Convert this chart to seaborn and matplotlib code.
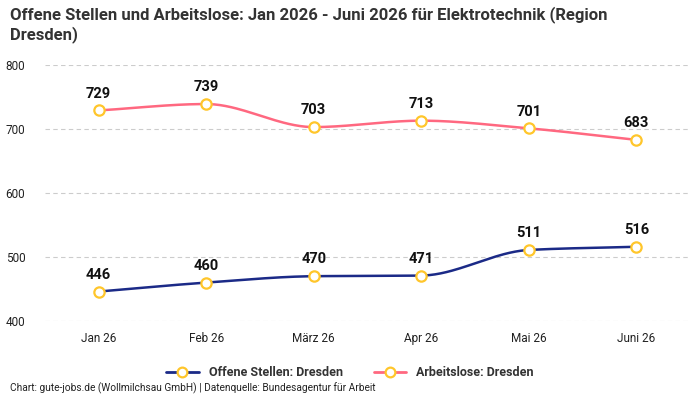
import numpy as np
import pandas as pd
import seaborn as sns
import matplotlib.pyplot as plt
from matplotlib.lines import Line2D

# Data
monate = ["Jan 26", "Feb 26", "März 26", "Apr 26", "Mai 26", "Juni 26"]
offene_stellen = [446, 460, 470, 471, 511, 516]
arbeitslose = [729, 739, 703, 713, 701, 683]

NAVY = "#1b2a87"
PINK = "#ff6880"
YELLOW = "#ffc62b"

sns.set_theme(style="white")
plt.rcParams["font.family"] = ["Roboto", "DejaVu Sans"]


def monotone_curve(x, y, n=40):
    # monotone cubic hermite (Fritsch-Carlson), only for drawing the smooth line
    x = np.asarray(x, float)
    y = np.asarray(y, float)
    h = np.diff(x)
    d = np.diff(y) / h
    m = np.zeros_like(y)
    m[0], m[-1] = d[0], d[-1]
    for i in range(1, len(y) - 1):
        if d[i - 1] * d[i] <= 0:
            m[i] = 0
        else:
            m[i] = 2 / (1 / d[i - 1] + 1 / d[i])
    xs, ys = [], []
    for i in range(len(h)):
        t = np.linspace(0, 1, n)
        h00 = 2 * t**3 - 3 * t**2 + 1
        h10 = t**3 - 2 * t**2 + t
        h01 = -2 * t**3 + 3 * t**2
        h11 = t**3 - t**2
        xs.append(x[i] + t * h[i])
        ys.append(h00 * y[i] + h10 * h[i] * m[i] + h01 * y[i + 1] + h11 * h[i] * m[i + 1])
    return np.concatenate(xs), np.concatenate(ys)


df = pd.DataFrame({
    "pos": list(range(len(monate))) * 2,
    "wert": offene_stellen + arbeitslose,
    "reihe": ["Offene Stellen: Dresden"] * 6 + ["Arbeitslose: Dresden"] * 6,
})

fig = plt.figure(figsize=(7, 4), dpi=100)
ax = fig.add_axes([0.064, 0.1975, 0.922, 0.64])

for name, color in [("Offene Stellen: Dresden", NAVY), ("Arbeitslose: Dresden", PINK)]:
    sub = df[df["reihe"] == name]
    cx, cy = monotone_curve(sub["pos"], sub["wert"])
    ax.plot(cx, cy, color=color, lw=1.8, zorder=3)
    sns.scatterplot(data=sub, x="pos", y="wert", ax=ax, s=55, color="white",
                    edgecolor=YELLOW, linewidth=1.6, zorder=4, legend=False)
    for xp, v in zip(sub["pos"], sub["wert"]):
        ax.annotate(str(v), (xp, v), xytext=(0, 7), textcoords="offset points",
                    ha="center", va="bottom", fontsize=10.5, fontweight="bold",
                    color="#111111")

ax.set_xlim(-0.5, 5.5)
ax.set_ylim(400, 800)
ax.set_yticks([400, 500, 600, 700, 800])
ax.set_xticks(range(len(monate)))
ax.set_xticklabels(monate)
ax.tick_params(axis="both", labelsize=8.5, colors="#222222", length=0)
ax.tick_params(axis="y", pad=14)
ax.tick_params(axis="x", pad=8)
ax.grid(axis="y", color="#cccccc", linestyle=(0, (4, 3)), lw=0.8)
ax.set_axisbelow(True)
ax.set_xlabel("")
ax.set_ylabel("")
for sp in ax.spines.values():
    sp.set_visible(False)

handles = [
    Line2D([], [], color=NAVY, lw=2, marker="o", markersize=7, markerfacecolor="white",
           markeredgecolor=YELLOW, markeredgewidth=1.6),
    Line2D([], [], color=PINK, lw=2, marker="o", markersize=7, markerfacecolor="white",
           markeredgecolor=YELLOW, markeredgewidth=1.6),
]
leg = fig.legend(handles, ["Offene Stellen: Dresden", "Arbeitslose: Dresden"],
                 loc="center", bbox_to_anchor=(0.5, 0.068), ncol=2, frameon=False,
                 prop={"size": 9, "weight": "bold"}, handlelength=2.6,
                 columnspacing=2.5, labelcolor="#333333")

fig.text(0.014, 0.985, "Offene Stellen und Arbeitslose: Jan 2026 - Juni 2026 für Elektrotechnik (Region\nDresden)",
         ha="left", va="top", fontsize=12, fontweight="bold", color="#333333",
         linespacing=1.2)
fig.text(0.014, 0.016, "Chart: gute-jobs.de (Wollmilchsau GmbH) | Datenquelle: Bundesagentur für Arbeit",
         ha="left", va="bottom", fontsize=7.3, color="#222222")

fig.savefig("out.png", dpi=100)
